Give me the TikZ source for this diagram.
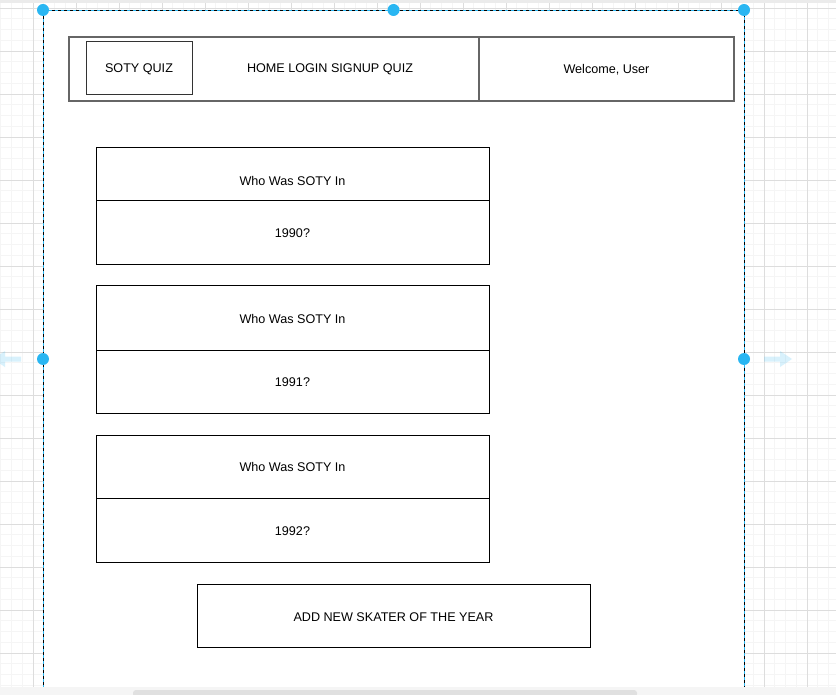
\documentclass[tikz,border=0pt]{standalone}
\usepackage{fontspec}
\setmainfont{Liberation Sans}
\usetikzlibrary{positioning}
\definecolor{handleblue}{HTML}{29B6F2}
\definecolor{gridminor}{HTML}{F5F5F5}
\definecolor{gridmajor}{HTML}{DDDDDD}
\definecolor{navgray}{HTML}{666666}
\newcommand{\lowered}[2]{\raisebox{#1}[9pt][2.5pt]{#2}}
\tikzset{
  box/.style={draw=black, line width=1pt, fill=white, inner sep=0pt, outer sep=0pt, anchor=north west, font=\fontsize{12.6}{14}\selectfont},
  navbox/.style={box, draw=navgray, line width=1.3pt},
  handle/.style={circle, fill=handleblue, inner sep=0pt, minimum size=12pt},
  hint/.style={fill=handleblue, fill opacity=0.18, draw=none}
}

\begin{document}
\begin{tikzpicture}[x=1pt, y=-1pt]
        \useasboundingbox (0,0) rectangle (836,695);
        \fill[white] (0,0) rectangle (836,695);
        % grid behind the page
        \foreach \i in {0,...,80} {
            \draw[gridminor, line width=0.8pt] ({-10+\i*10.75},0) -- ({-10+\i*10.75},695);
            \draw[gridminor, line width=0.8pt] (0,{-2.75+\i*10.75}) -- (836,{-2.75+\i*10.75});
        }
        \foreach \i in {0,...,20} {
            \draw[gridmajor, line width=0.9pt] ({-10+\i*43},0) -- ({-10+\i*43},695);
            \draw[gridmajor, line width=0.9pt] (0,{8+\i*43}) -- (836,{8+\i*43});
        }
        \fill[gridmajor!60] (0,0) rectangle (836,3);

        % page frame (selected)
        \node[box, draw=none, minimum width=701pt, minimum height=690pt] (frame) at (43,10) {};
        \draw[black, line width=0.9pt] (frame.south west) -- (frame.north west) -- (frame.north east) -- (frame.south east);
        \draw[handleblue, line width=0.9pt, dash pattern=on 3pt off 3pt] (frame.south west) -- (frame.north west) -- (frame.north east) -- (frame.south east);

        % navigation bar
        \node[navbox, minimum width=665pt, minimum height=64pt] (navbar) at (69,37) {};
        \node[box, draw=black!80, minimum width=106pt, minimum height=53pt] (logo) at (86,42) {\lowered{-1pt}{SOTY QUIZ}};
        \node[font=\fontsize{12.6}{14}\selectfont, inner sep=0pt] (menu) at (330,68) {\lowered{-1pt}{HOME LOGIN SIGNUP QUIZ}};
        \node[navbox, minimum width=255pt, minimum height=64pt] (welcome) at (479,37) {\lowered{-1pt}{Welcome, User}};

        % question cards
        \foreach \yr/\top/\mid/\bot/\sh/\ah in {1990/148/201/265/-8pt/-1.5pt, 1991/286/350/413/-2pt/-1.5pt, 1992/435/498/562/-2pt/-2.5pt} {
            \node[box, minimum width=393pt, minimum height={\mid-\top}] (q\yr) at (96,\top) {\lowered{\sh}{Who Was SOTY In}};
            \node[box, minimum width=393pt, minimum height={\bot-\mid}] (a\yr) at (96,\mid) {\lowered{\ah}{\yr?}};
        }

        % button
        \node[box, minimum width=393pt, minimum height=63pt] (addbtn) at (197,584) {\lowered{-2.5pt}{ADD NEW SKATER OF THE YEAR}};

        % scroll bar
        \fill[black!4] (0,687) rectangle (836,695);
        \fill[black!12, rounded corners=3pt] (133,690) rectangle (637,697);

        % resize handles and hints
        \node[handle] (h1) at (frame.north west) {};
        \node[handle] (h2) at (frame.north) {};
        \node[handle] (h3) at (frame.north east) {};
        \node[handle] (h4) at (43,359) {};
        \node[handle] (h5) at (744,359) {};
        \fill[hint] (764,356.5) -- (780,356.5) -- (780,351) -- (792,359) -- (780,367) -- (780,361.5) -- (764,361.5) -- cycle;
        \fill[hint] (21,356.5) -- (5,356.5) -- (5,351) -- (-7,359) -- (5,367) -- (5,361.5) -- (21,361.5) -- cycle;
\end{tikzpicture}
\end{document}
